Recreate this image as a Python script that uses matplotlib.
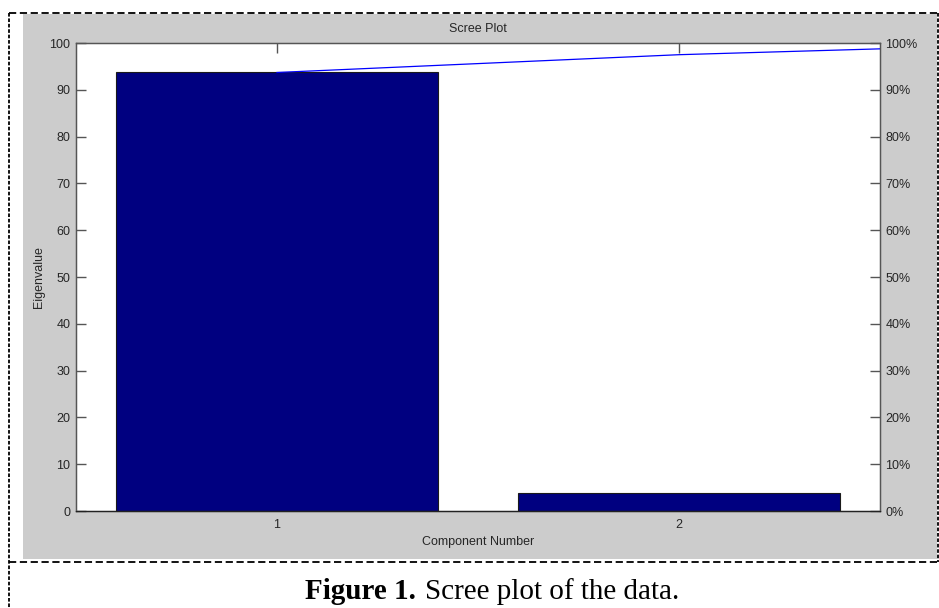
import matplotlib
matplotlib.use("Agg")
import matplotlib.pyplot as plt
import numpy as np
from matplotlib.lines import Line2D
from matplotlib.patches import Rectangle

# eigenvalues (percent of variance explained)
components = [1, 2, 3]
eigenvalues = [93.7, 3.8, 2.5]
left_ticks = [0, 10, 20, 30, 40, 50, 60, 70, 80, 90, 100]
right_ticks = [0, 10, 20, 30, 40, 50, 60, 70, 80, 90, 100]
right_labels = ["%d%%" % t for t in right_ticks]
shown_components = [1, 2]

plt.rcParams["font.family"] = ["Liberation Sans", "DejaVu Sans"]
txt = "#262626"

fig = plt.figure(figsize=(9.39, 6.08), dpi=100)
fig.patch.set_facecolor("white")

W, H = 939.0, 608.0
# gray matlab figure background
fig.patches.append(Rectangle((23 / W, 1 - 559 / H), (937 - 23) / W, (559 - 14) / H,
                             transform=fig.transFigure, facecolor="#cccccc",
                             edgecolor="none", zorder=-5))
# dashed frame
frame = dict(color="black", lw=1.3, ls=(0, (4, 2)), transform=fig.transFigure)
fig.add_artist(Line2D([9 / W, 939 / W], [1 - 13 / H, 1 - 13 / H], **frame))
fig.add_artist(Line2D([9 / W, 939 / W], [1 - 562 / H, 1 - 562 / H], **frame))
fig.add_artist(Line2D([9 / W, 9 / W], [1 - 13 / H, 0], color="black", lw=1.3,
                      ls=(0, (2, 1)), transform=fig.transFigure))
fig.add_artist(Line2D([938 / W, 938 / W], [1 - 13 / H, 1 - 562 / H], color="black",
                      lw=1.3, ls=(0, (2, 1)), transform=fig.transFigure))

ax = fig.add_axes([76 / W, 1 - 511 / H, (880 - 76) / W, (511 - 43) / H])
ax.set_facecolor("white")
ax.bar(components, eigenvalues, width=0.8, color="#000080", edgecolor="#1a1a1a",
       linewidth=0.8, zorder=2)
cum = np.cumsum(eigenvalues) / np.sum(eigenvalues) * 100
ax.set_xlim(0.5, 2.5)
ax.set_ylim(0, 100)
ax.set_yticks(left_ticks)
ax.set_xticks(shown_components)
ax.tick_params(axis="both", direction="in", length=7, width=1, color="#555555",
               labelsize=9, labelcolor=txt, pad=4)
ax.tick_params(axis="x", top=True, bottom=True, pad=6)
for s in ax.spines.values():
    s.set_color("#555555")
    s.set_linewidth(1)
ax.spines["bottom"].set_color("#222222")

ax2 = ax.twinx()
ax2.plot(components, cum, color="#0000ff", lw=0.9, zorder=3)
ax2.set_ylim(0, 100)
ax2.set_yticks(right_ticks)
ax2.set_yticklabels(right_labels)
ax2.tick_params(axis="y", direction="in", length=7, width=1, color="#555555",
                labelsize=9, labelcolor=txt, pad=4)
for s in ax2.spines.values():
    s.set_color("#555555")
ax2.spines["bottom"].set_color("#222222")

ax.set_title("Scree Plot", fontsize=9, color=txt, pad=8)
ax.set_xlabel("Component Number", fontsize=9, color=txt, labelpad=3)
ax.set_ylabel("Eigenvalue", fontsize=9, color=txt, labelpad=3)

# caption: bold "Figure 1." followed by regular text, centred on x=492
cap_y = 1 - 599 / H
t1 = fig.text(0, cap_y, "Figure 1.", fontsize=21, fontweight="bold",
              family="Liberation Serif", color="black", ha="left", va="baseline")
t2 = fig.text(0, cap_y, "Scree plot of the data.", fontsize=21,
              family="Liberation Serif", color="black", ha="left", va="baseline")
fig.canvas.draw()
r = fig.canvas.get_renderer()
w1 = t1.get_window_extent(r).width
w2 = t2.get_window_extent(r).width
gap = 9
x0 = 492 - (w1 + gap + w2) / 2
t1.set_x(x0 / W)
t2.set_x((x0 + w1 + gap) / W)

fig.savefig("out.png", dpi=100, facecolor=fig.get_facecolor())
